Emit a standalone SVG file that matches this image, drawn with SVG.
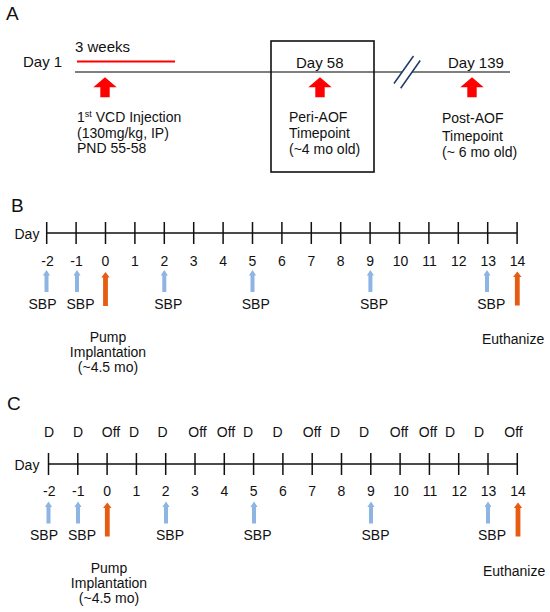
<svg xmlns="http://www.w3.org/2000/svg" width="550" height="612" viewBox="0 0 550 612">
<style>
text{font-family:"Liberation Sans",Arial,sans-serif;font-size:14px;fill:#111}
.t15{font-size:15px}
.pl{font-size:19px}
.m{text-anchor:middle}
.ax{stroke:#111;stroke-width:1.5;fill:none}
.blue{fill:#8db4e2}
.orange{fill:#e65c12}
.red{fill:#ff0000}
</style>
<defs>
<path id="barrow" d="M0,0 L3.6,5.5 L2,5.5 L2,22 L-2,22 L-2,5.5 L-3.6,5.5 Z"/>
<path id="oarrow" d="M0,0 L4.2,5.5 L2.4,5.5 L2.4,34 L-2.4,34 L-2.4,5.5 L-4.2,5.5 Z"/>
<path id="rarrow" d="M0,0 L11.7,10 L4.7,10 L4.7,20 L-4.7,20 L-4.7,10 L-11.7,10 Z"/>
</defs>

<!-- Panel A -->
<g id="panelA">
<text x="6" y="20" class="pl">A</text>
<g id="a-timeline">
<line x1="75" y1="72" x2="402" y2="72" stroke="#555" stroke-width="1.3"/>
<line x1="412" y1="72" x2="510" y2="72" stroke="#555" stroke-width="1.3"/>
<line x1="394" y1="83.5" x2="413.5" y2="56" stroke="#1f3864" stroke-width="1.5"/>
<line x1="400.7" y1="88.3" x2="420.2" y2="60.5" stroke="#1f3864" stroke-width="1.5"/>
</g>
<g id="a-day1">
<text x="23" y="67" class="t15">Day 1</text>
<text x="75" y="52" class="t15">3 weeks</text>
<line x1="77" y1="61.5" x2="175" y2="61.5" stroke="#ff0000" stroke-width="2"/>
<use href="#rarrow" class="red" x="105" y="77.3"/>
<text x="77" y="121.5">1<tspan font-size="9" dy="-5">st</tspan><tspan dy="5"> VCD Injection</tspan></text>
<text x="77" y="137.5">(130mg/kg, IP)</text>
<text x="77" y="153">PND 55-58</text>
</g>
<g id="a-day58">
<rect x="271" y="41" width="103" height="131" fill="none" stroke="#111" stroke-width="1.6"/>
<text x="296" y="67.5" class="t15">Day 58</text>
<use href="#rarrow" class="red" x="320" y="77.3"/>
<text x="289" y="121.7">Peri-AOF</text>
<text x="289" y="138.3">Timepoint</text>
<text x="289" y="154">(~4 mo old)</text>
</g>
<g id="a-day139">
<text x="448" y="67.5" class="t15">Day 139</text>
<use href="#rarrow" class="red" x="472" y="77.3"/>
<text x="442" y="123.3">Post-AOF</text>
<text x="442" y="140.5">Timepoint</text>
<text x="442" y="156.5">(~ 6 mo old)</text>
</g>
</g>

<!-- Panel B -->
<g id="panelB">
<text x="11" y="212" class="pl">B</text>
<g id="b-axis">
<text x="14.5" y="238.5">Day</text>
<path class="ax" d="M46.7,233 H517.1 M46.7,222 V244 M76.1,222 V244 M105.5,222 V244 M134.9,222 V244 M164.3,222 V244 M193.7,222 V244 M223.1,222 V244 M252.5,222 V244 M281.9,222 V244 M311.3,222 V244 M340.7,222 V244 M370.1,222 V244 M399.5,222 V244 M428.9,222 V244 M458.3,222 V244 M487.7,222 V244 M517.1,222 V244"/>
<text x="47.5" y="266" class="m">-2</text>
<text x="76.5" y="266" class="m">-1</text>
<text x="105.5" y="266" class="m">0</text>
<text x="134.9" y="266" class="m">1</text>
<text x="164.3" y="266" class="m">2</text>
<text x="193.7" y="266" class="m">3</text>
<text x="223.1" y="266" class="m">4</text>
<text x="252.5" y="266" class="m">5</text>
<text x="281.9" y="266" class="m">6</text>
<text x="311.3" y="266" class="m">7</text>
<text x="340.7" y="266" class="m">8</text>
<text x="370.1" y="266" class="m">9</text>
<text x="400.5" y="266" class="m">10</text>
<text x="429.5" y="266" class="m">11</text>
<text x="458.8" y="266" class="m">12</text>
<text x="488.2" y="266" class="m">13</text>
<text x="517.6" y="266" class="m">14</text>
</g>
<g id="b-events">
<use href="#barrow" class="blue" x="46.5" y="270"/>
<use href="#barrow" class="blue" x="77" y="270"/>
<use href="#oarrow" class="orange" x="105.5" y="272"/>
<use href="#barrow" class="blue" x="164.3" y="270"/>
<use href="#barrow" class="blue" x="252.5" y="270"/>
<use href="#barrow" class="blue" x="370.4" y="270"/>
<use href="#barrow" class="blue" x="487" y="270"/>
<use href="#oarrow" class="orange" x="517.3" y="271.5"/>
<text x="42.5" y="308.5" class="m">SBP</text>
<text x="80.5" y="308.5" class="m">SBP</text>
<text x="168.3" y="308.5" class="m">SBP</text>
<text x="255.8" y="308.5" class="m">SBP</text>
<text x="374" y="308.5" class="m">SBP</text>
<text x="491.3" y="308.5" class="m">SBP</text>
<text x="108" y="341.5" class="m">Pump</text>
<text x="108" y="357" class="m">Implantation</text>
<text x="108" y="372" class="m">(~4.5 mo)</text>
<text x="482" y="344">Euthanize</text>
</g>
</g>

<!-- Panel C -->
<g id="panelC">
<text x="7" y="410" class="pl">C</text>
<g id="c-doses">
<text x="49" y="437" class="m">D</text>
<text x="78" y="437" class="m">D</text>
<text x="111" y="437" class="m">Off</text>
<text x="134" y="437" class="m">D</text>
<text x="162.5" y="437" class="m">D</text>
<text x="197.5" y="437" class="m">Off</text>
<text x="226" y="437" class="m">Off</text>
<text x="248" y="437" class="m">D</text>
<text x="277.5" y="437" class="m">D</text>
<text x="312" y="437" class="m">Off</text>
<text x="335" y="437" class="m">D</text>
<text x="364" y="437" class="m">D</text>
<text x="399" y="437" class="m">Off</text>
<text x="428" y="437" class="m">Off</text>
<text x="450" y="437" class="m">D</text>
<text x="479" y="437" class="m">D</text>
<text x="513.5" y="437" class="m">Off</text>
</g>
<g id="c-axis">
<text x="14.5" y="470">Day</text>
<path class="ax" d="M48.5,464 H517.3 M48.5,453 V475 M77.8,453 V475 M107.1,453 V475 M136.4,453 V475 M165.7,453 V475 M195,453 V475 M224.3,453 V475 M253.6,453 V475 M282.9,453 V475 M312.2,453 V475 M341.5,453 V475 M370.8,453 V475 M400.1,453 V475 M429.4,453 V475 M458.7,453 V475 M488,453 V475 M517.3,453 V475"/>
<text x="49.3" y="496" class="m">-2</text>
<text x="78.3" y="496" class="m">-1</text>
<text x="107.1" y="496" class="m">0</text>
<text x="136.4" y="496" class="m">1</text>
<text x="165.7" y="496" class="m">2</text>
<text x="195" y="496" class="m">3</text>
<text x="224.3" y="496" class="m">4</text>
<text x="253.6" y="496" class="m">5</text>
<text x="282.9" y="496" class="m">6</text>
<text x="312.2" y="496" class="m">7</text>
<text x="341.5" y="496" class="m">8</text>
<text x="370.8" y="496" class="m">9</text>
<text x="401" y="496" class="m">10</text>
<text x="430" y="496" class="m">11</text>
<text x="459.3" y="496" class="m">12</text>
<text x="488.6" y="496" class="m">13</text>
<text x="518" y="496" class="m">14</text>
</g>
<g id="c-events">
<use href="#barrow" class="blue" x="48.5" y="501.5"/>
<use href="#barrow" class="blue" x="78" y="501.5"/>
<use href="#oarrow" class="orange" x="107.3" y="502.5"/>
<use href="#barrow" class="blue" x="166" y="501.5"/>
<use href="#barrow" class="blue" x="254" y="501.5"/>
<use href="#barrow" class="blue" x="371" y="501.5"/>
<use href="#barrow" class="blue" x="488" y="501.5"/>
<use href="#oarrow" class="orange" x="518" y="502.5"/>
<text x="44" y="540" class="m">SBP</text>
<text x="82" y="540" class="m">SBP</text>
<text x="170" y="540" class="m">SBP</text>
<text x="257.5" y="540" class="m">SBP</text>
<text x="375.5" y="540" class="m">SBP</text>
<text x="492" y="540" class="m">SBP</text>
<text x="109" y="573" class="m">Pump</text>
<text x="109" y="588" class="m">Implantation</text>
<text x="109" y="603" class="m">(~4.5 mo)</text>
<text x="483" y="576">Euthanize</text>
</g>
</g>
</svg>
